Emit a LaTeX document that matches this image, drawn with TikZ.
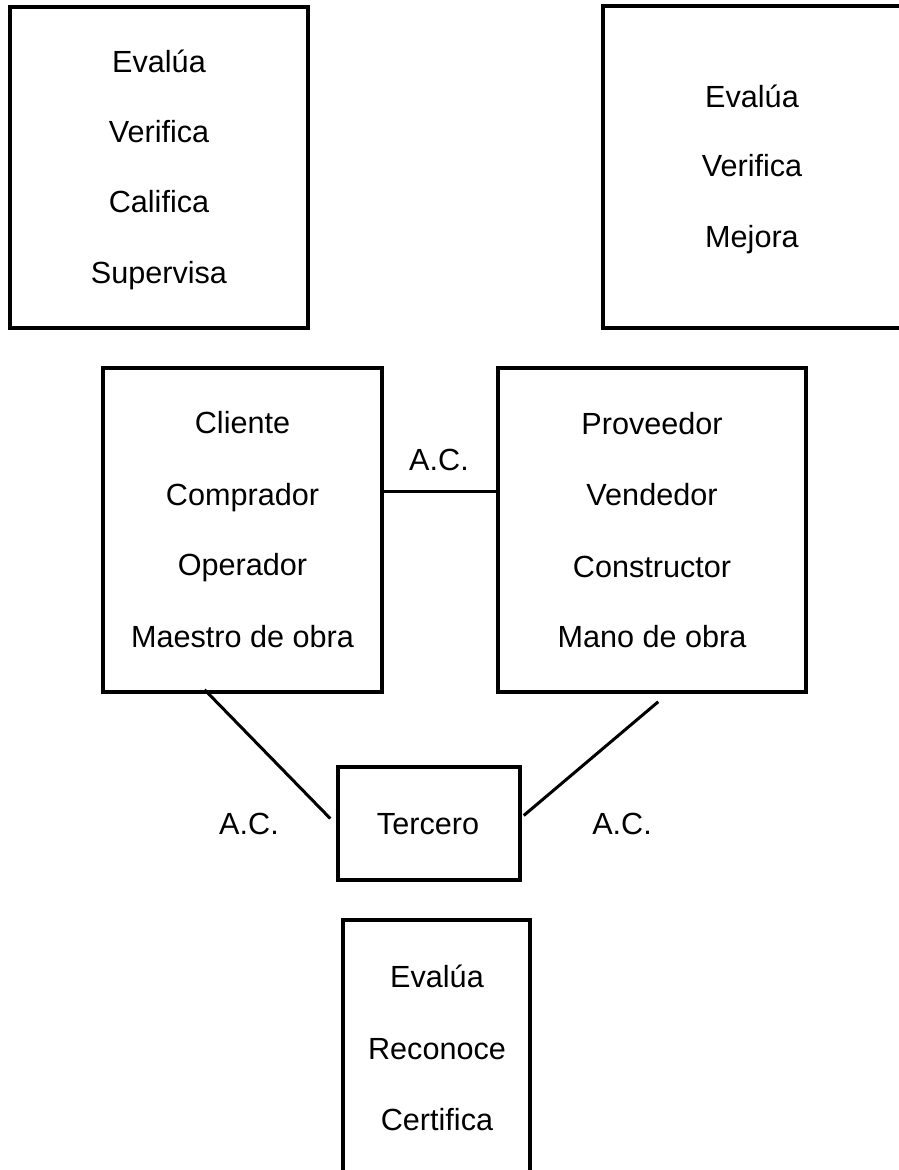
\documentclass[tikz,border=0pt]{standalone}
\usepackage{fontspec}
\setmainfont{Liberation Sans}
\usetikzlibrary{calc}
\begin{document}
\begin{tikzpicture}[x=1pt,y=-1pt,
  box/.style={draw=black, line width=3.5pt, rectangle, inner sep=0pt},
  lbl/.style={anchor=base, inner sep=0pt, font=\fontsize{30.6}{36}\selectfont},
  conn/.style={draw=black, line width=3pt}]
\useasboundingbox (0,0) rectangle (898,1170);
% boxes
\node[box, minimum width=298pt, minimum height=321pt] (tl) at (159,167.5) {};
\node[box, minimum width=306pt, minimum height=322pt] (tr) at (756,167) {};
\node[box, minimum width=279pt, minimum height=324pt] (ml) at (242.5,530) {};
\node[box, minimum width=308pt, minimum height=324pt] (mr) at (652,530) {};
\node[box, minimum width=182pt, minimum height=113pt] (ter) at (429,823.5) {};
\node[box, minimum width=187pt, minimum height=256pt] (bt) at (436.5,1048) {};
% texts top-left
\node[lbl] (tl1) at (159,72) {Evalúa};
\node[lbl] (tl2) at (159,142) {Verifica};
\node[lbl] (tl3) at (159,212) {Califica};
\node[lbl] (tl4) at (159,283) {Supervisa};
% texts top-right
\node[lbl] (tr1) at (752,107) {Evalúa};
\node[lbl] (tr2) at (752,176) {Verifica};
\node[lbl] (tr3) at (752,247) {Mejora};
% middle-left
\node[lbl] (ml1) at (242.5,433) {Cliente};
\node[lbl] (ml2) at (242.5,505) {Comprador};
\node[lbl] (ml3) at (242.5,575) {Operador};
\node[lbl] (ml4) at (242.5,647) {Maestro de obra};
% middle-right
\node[lbl] (mr1) at (652,434) {Proveedor};
\node[lbl] (mr2) at (652,505) {Vendedor};
\node[lbl] (mr3) at (652,577) {Constructor};
\node[lbl] (mr4) at (652,647) {Mano de obra};
% tercero
\node[lbl] (tert) at (428,834) {Tercero};
% bottom
\node[lbl] (bt1) at (437,987) {Evalúa};
\node[lbl] (bt2) at (437,1059) {Reconoce};
\node[lbl] (bt3) at (437,1130) {Certifica};
% A.C. labels
\node[lbl] (ac1) at (439,470) {A.C.};
\node[lbl] (ac2) at (249,834) {A.C.};
\node[lbl] (ac3) at (622,834) {A.C.};
% connectors
\draw[conn] ($(ml.north east)!0.383!(ml.south east)$) -- ($(mr.north west)!0.383!(mr.south west)$);
\draw[conn] ($(ml.south west)!0.366!(ml.south east)+(0,-4)$) -- ($(ter.west)+(-6,-5)$);
\draw[conn] ($(mr.south west)!0.52!(mr.south east)+(0,8)$) -- ($(ter.east)+(2,-8)$);
\end{tikzpicture}
\end{document}
